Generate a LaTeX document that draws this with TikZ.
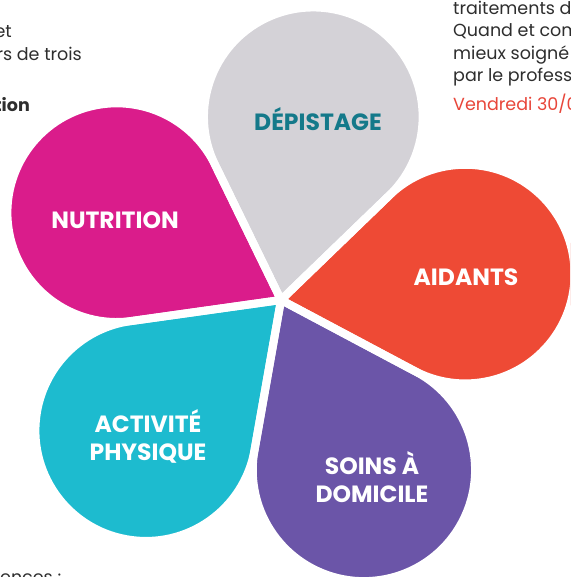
\documentclass[tikz,border=0pt]{standalone}
\usepackage{fontspec}
\setmainfont{Poppins}
\definecolor{pgray}{HTML}{D4D2D7}
\definecolor{pred}{HTML}{EE4A35}
\definecolor{ppurple}{HTML}{6B55A8}
\definecolor{pcyan}{HTML}{1DBBCF}
\definecolor{pmagenta}{HTML}{DA1C8B}
\definecolor{pteal}{HTML}{14798A}
\definecolor{bodytext}{HTML}{2E2E2E}
\definecolor{redtext}{HTML}{E8463A}
\begin{document}
\begin{tikzpicture}[x=1pt,y=1pt,
  lab/.style={font=\bfseries\fontsize{23.5}{28}\selectfont, text=white, align=center, inner sep=0pt},
  bodytxt/.style={font=\fontsize{17.5}{21}\selectfont, text=bodytext, inner sep=0pt}]
\useasboundingbox (0,0) rectangle (570,577);
\clip (0,0) rectangle (570,577);
\fill[white] (0,0) rectangle (570,577);
\coordinate (C) at (281,277);
\foreach \a/\c/\d in {80/pgray/150.5,8/pred/150.5,-64/ppurple/153,-136/pcyan/152,152/pmagenta/150.5}{
  \fill[\c] (C) -- ++(\a+36:\d) arc[start angle=\a+126, end angle=\a-126, radius=\d*0.7265] -- cycle;
}
\foreach \a/\d in {80/150.5,8/150.5,-64/153,-136/152,152/150.5}{
  \draw[white, line width=8pt, line join=round] (C) -- ++(\a+36:\d) arc[start angle=\a+126, end angle=\a-126, radius=\d*0.7265] -- cycle;
}
\node[lab, text=pteal] (dep) at (318,458) {DÉPISTAGE};
\node[lab] (nut) at (115,357) {NUTRITION};
\node[lab] (aid) at (466,300) {AIDANTS};
\node[lab] (act) at (148,140.5) {ACTIVITÉ\\PHYSIQUE};
\node[lab] (soi) at (372,99.5) {SOINS À\\DOMICILE};
\node[bodytxt, anchor=base east] (t1) at (12,539) {et};
\node[bodytxt, anchor=base east] (t2) at (82,516) {rs de trois};
\node[bodytxt, anchor=base east, font=\bfseries\fontsize{17.5}{21}\selectfont] (t3) at (30,465) {tion};
\node[bodytxt, anchor=base west] (r1) at (453,562) {traitements de};
\node[bodytxt, anchor=base west] (r2) at (453,540) {Quand et com};
\node[bodytxt, anchor=base west] (r3) at (453,517) {mieux soigné};
\node[bodytxt, anchor=base west] (r4) at (453,495) {par le profess};
\node[bodytxt, anchor=base west, text=redtext] (r5) at (453,466) {Vendredi 30/0};
\node[bodytxt, anchor=base west] (b1) at (0,-6) {ences :};
\end{tikzpicture}
\end{document}
